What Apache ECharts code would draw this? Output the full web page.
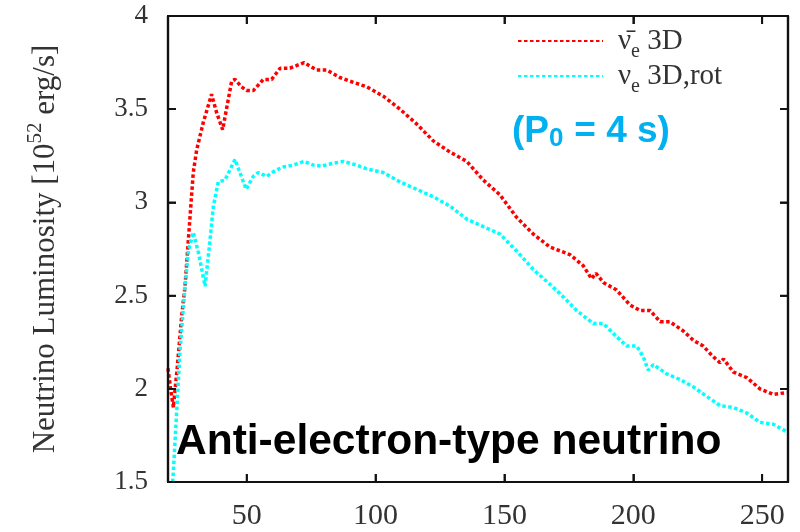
<!DOCTYPE html>
<html>
<head>
<meta charset="utf-8">
<script src="https://cdn.jsdelivr.net/npm/echarts@6/dist/echarts.min.js"></script>
<style>
html,body{margin:0;padding:0;background:#fff;}
#chart{width:800px;height:532px;}
</style>
</head>
<body>
<div id="chart"></div>
<script>
// Time after bounce [ms] and luminosity [10^52 erg/s]
const redTime = [19.5, 20.5, 21.6, 22.2, 23.0, 24.8, 26.1, 27.4, 29.3, 30.6, 33.2, 36.4, 38.4, 40.7, 42.3, 44.2, 45.5, 48.0, 50.0, 52.6, 56.5, 59.7, 63.0, 66.8, 72.3, 77.2, 81.1, 86.2, 90.1, 96.6, 103.0, 109.5, 116.0, 122.4, 128.9, 135.4, 141.8, 148.3, 154.7, 161.2, 167.7, 171.6, 175.4, 180.6, 183.8, 185.5, 188.4, 193.5, 198.7, 202.6, 206.5, 210.4, 214.2, 219.4, 223.3, 227.1, 230.4, 233.6, 235.0, 238.8, 244.0, 249.1, 254.3, 259.5];
const redLum  = [2.11, 2.00, 1.90, 1.99, 2.10, 2.39, 2.55, 2.80, 3.16, 3.28, 3.43, 3.58, 3.48, 3.39, 3.51, 3.65, 3.66, 3.62, 3.60, 3.60, 3.66, 3.66, 3.72, 3.72, 3.75, 3.71, 3.71, 3.67, 3.65, 3.62, 3.57, 3.50, 3.42, 3.33, 3.27, 3.22, 3.12, 3.04, 2.92, 2.83, 2.76, 2.74, 2.72, 2.66, 2.59, 2.62, 2.57, 2.53, 2.45, 2.42, 2.42, 2.36, 2.36, 2.31, 2.26, 2.23, 2.18, 2.14, 2.16, 2.09, 2.06, 2.00, 1.97, 1.98];
const cyanTime = [21.3, 21.6, 24.2, 26.1, 27.4, 29.3, 31.3, 33.9, 35.8, 37.1, 39.0, 41.6, 45.5, 47.4, 49.8, 52.6, 54.5, 57.8, 61.0, 64.2, 68.1, 72.3, 75.9, 79.1, 83.6, 87.5, 92.7, 96.6, 103.0, 109.5, 116.0, 122.4, 128.9, 135.4, 141.8, 148.3, 154.7, 161.2, 167.7, 171.6, 178.0, 184.5, 188.4, 193.5, 197.4, 201.3, 203.9, 205.8, 207.8, 212.9, 218.1, 223.3, 228.4, 233.6, 238.8, 244.0, 249.1, 254.3, 259.5];
const cyanLum  = [1.50, 1.56, 2.21, 2.55, 2.74, 2.84, 2.73, 2.55, 2.80, 2.98, 3.11, 3.12, 3.23, 3.16, 3.07, 3.14, 3.16, 3.14, 3.17, 3.19, 3.20, 3.22, 3.20, 3.195, 3.21, 3.22, 3.20, 3.18, 3.16, 3.11, 3.07, 3.03, 2.98, 2.91, 2.87, 2.83, 2.74, 2.64, 2.56, 2.51, 2.42, 2.35, 2.35, 2.28, 2.23, 2.23, 2.17, 2.10, 2.13, 2.08, 2.05, 2.01, 1.96, 1.91, 1.90, 1.87, 1.82, 1.81, 1.77];
const xTicks = [50, 100, 150, 200, 250];
const yTicks = [2, 2.5, 3, 3.5];
const xRange = [19.5, 260];
const yRange = [1.5, 4];
const seriesNames = ['nubar_e 3D', 'nu_e 3D,rot'];

const zip = (a, b) => a.map((v, i) => [v, b[i]]);
const serif = 'Liberation Serif';
const frameColor = '#111111';
const blue = '#00b0f0';

function makeX(pos, showLabel) {
  return {
    type: 'value', min: xRange[0], max: xRange[1], position: pos, gridIndex: 0,
    axisLine: {show: true, onZero: false, lineStyle: {color: frameColor, width: 2.2}},
    axisTick: {show: true, inside: true, length: 8, customValues: xTicks.slice(), lineStyle: {color: frameColor, width: 1.8}},
    axisLabel: {show: showLabel, customValues: xTicks.slice(), margin: 19, fontFamily: serif, fontSize: 30, color: '#333'},
    splitLine: {show: false}
  };
}
function makeY(pos, showLabel) {
  return {
    type: 'value', min: yRange[0], max: yRange[1], interval: 0.5, position: pos, gridIndex: 0,
    axisLine: {show: true, onZero: false, lineStyle: {color: frameColor, width: 2.2}},
    axisTick: {show: true, inside: true, length: 8, lineStyle: {color: frameColor, width: 1.8}},
    axisLabel: {show: showLabel, margin: 20, fontFamily: serif, fontSize: 27, color: '#333'},
    splitLine: {show: false}
  };
}

const chart = echarts.init(document.getElementById('chart'));

const yLeft = makeY('left', true);
yLeft.name = '{n|Neutrino Luminosity [10}{s|52}{n| erg/s]}';
yLeft.nameLocation = 'middle';
yLeft.nameRotate = 90;
yLeft.nameGap = 107;
yLeft.nameTextStyle = {fontFamily: serif, color: '#333',
  rich: {
    n: {fontFamily: serif, fontSize: 31, color: '#333', lineHeight: 36, verticalAlign: 'bottom'},
    s: {fontFamily: serif, fontSize: 21, color: '#333', lineHeight: 21, verticalAlign: 'top'}
  }};

const dataSeries = [
  {name: seriesNames[0], type: 'line', symbol: 'none', data: zip(redTime, redLum), z: 4,
    lineStyle: {color: '#ff0000', width: 3.5, type: [3.5, 2.5], cap: 'butt'}, itemStyle: {color: '#ff0000'}},
  {name: seriesNames[1], type: 'line', symbol: 'none', data: zip(cyanTime, cyanLum), z: 4,
    lineStyle: {color: '#00ffff', width: 3.5, type: [3.5, 2.5], cap: 'butt'}, itemStyle: {color: '#00ffff'}}
];

chart.setOption({
  animation: false,
  grid: {left: 168, right: 12, top: 16, bottom: 50},
  xAxis: [makeX('bottom', true), makeX('top', false)],
  yAxis: [yLeft, makeY('right', false)],
  legend: {
    orient: 'vertical', left: 512, top: 22,
    itemWidth: 85, itemHeight: 14, itemGap: 0,
    itemStyle: {opacity: 0},
    data: seriesNames,
    formatter: function (name) {
      return name === seriesNames[0]
        ? '{g| }{m|\u03BD\u0304}{e|e}{m| 3D}'
        : '{g| }{m|\u03BD}{e|e}{m| 3D,rot}';
    },
    textStyle: {fontFamily: serif, fontSize: 29, color: '#333',
      rich: {
        g: {width: 10, fontSize: 29, lineHeight: 28, verticalAlign: 'top'},
        m: {fontFamily: serif, fontSize: 29, color: '#333', lineHeight: 28, verticalAlign: 'top'},
        e: {fontFamily: serif, fontSize: 20, color: '#333', lineHeight: 20, padding: [15, 0, 0, 0], verticalAlign: 'top'}
      }}
  },
  graphic: [
    {type: 'group', left: 512, top: 113, z: 10, children: [
      {type: 'text', x: 0, y: 0, style: {text: '(P', fill: blue, font: 'bold 37px "Liberation Sans"'}},
      {type: 'text', x: 37, y: 13, style: {text: '0', fill: blue, font: 'bold 26px "Liberation Sans"'}},
      {type: 'text', x: 52, y: 0, style: {text: ' = 4 s)', fill: blue, font: 'bold 37px "Liberation Sans"'}}
    ]},
    {type: 'text', left: 176, top: 421, z: 10,
      style: {text: 'Anti-electron-type neutrino', fill: '#000',
        font: 'bold 42.5px "Liberation Sans"'}}
  ],
  series: dataSeries
});

// Plot box and inward ticks as plain line series on the same axes (tick length from the axis scale)
const p0 = chart.convertToPixel({xAxisIndex: 0, yAxisIndex: 0}, [xRange[0], yRange[0]]);
const p1 = chart.convertToPixel({xAxisIndex: 0, yAxisIndex: 0}, [xRange[1], yRange[1]]);
const xPerPx = (xRange[1] - xRange[0]) / (p1[0] - p0[0]);
const yPerPx = (yRange[1] - yRange[0]) / (p0[1] - p1[1]);
const dx = 8 * xPerPx, dy = 8 * yPerPx;
const boxData = [[xRange[0], yRange[0]], [xRange[1], yRange[0]], [xRange[1], yRange[1]], [xRange[0], yRange[1]], [xRange[0], yRange[0]]];
const tickData = [];
xTicks.forEach(function (t) {
  tickData.push([t, yRange[0]], [t, yRange[0] + dy], '-', [t, yRange[1]], [t, yRange[1] - dy], '-');
});
yTicks.forEach(function (v) {
  tickData.push([xRange[0], v], [xRange[0] + dx, v], '-', [xRange[1], v], [xRange[1] - dx, v], '-');
});

chart.setOption({
  series: dataSeries.concat([
    {name: 'box', type: 'line', symbol: 'none', silent: true, clip: false, z: 5, data: boxData,
      lineStyle: {color: frameColor, width: 2.2, type: 'solid'}},
    {name: 'ticks', type: 'line', symbol: 'none', silent: true, clip: false, z: 5, connectNulls: false, data: tickData,
      lineStyle: {color: frameColor, width: 1.8, type: 'solid'}}
  ])
});
</script>
</body>
</html>
